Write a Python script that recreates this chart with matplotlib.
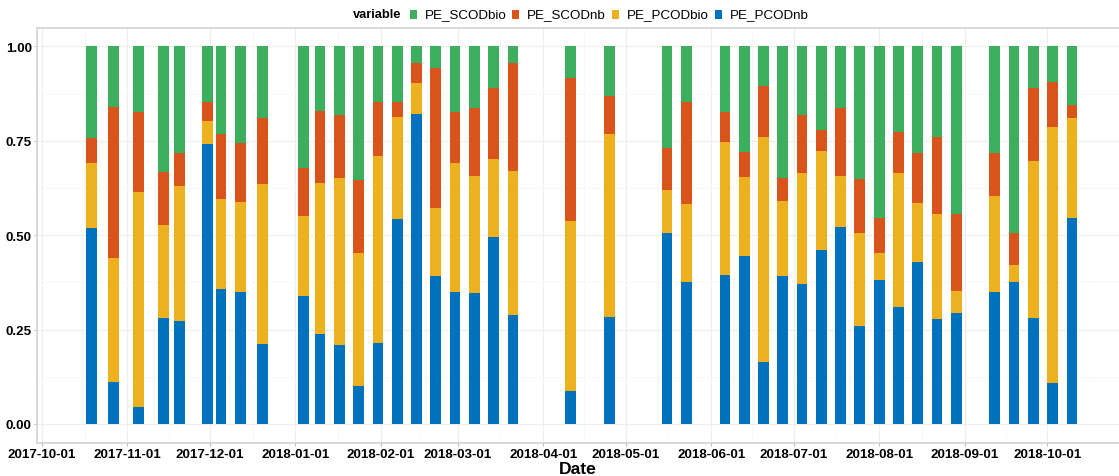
import matplotlib
matplotlib.use("Agg")
import matplotlib.pyplot as plt
import matplotlib.dates as mdates
from matplotlib.patches import Rectangle
import numpy as np
import pandas as pd

# Sampling dates
dates = [
    "2017-10-19", "2017-10-27", "2017-11-05", "2017-11-14", "2017-11-20",
    "2017-11-30", "2017-12-05", "2017-12-12", "2017-12-20", "2018-01-04",
    "2018-01-10", "2018-01-17", "2018-01-24", "2018-01-31", "2018-02-07",
    "2018-02-14", "2018-02-21", "2018-02-28", "2018-03-07", "2018-03-14",
    "2018-03-21", "2018-04-11", "2018-04-25", "2018-05-16", "2018-05-23",
    "2018-06-06", "2018-06-13", "2018-06-20", "2018-06-27", "2018-07-04",
    "2018-07-11", "2018-07-18", "2018-07-25", "2018-08-01", "2018-08-08",
    "2018-08-15", "2018-08-22", "2018-08-29", "2018-09-12", "2018-09-19",
    "2018-09-26", "2018-10-03", "2018-10-10",
]

# Cumulative fraction at the top of each stacked segment
top_pcodnb = [
    0.519, 0.112, 0.044, 0.281, 0.272, 0.741, 0.358, 0.350, 0.211, 0.339,
    0.237, 0.209, 0.101, 0.215, 0.542, 0.821, 0.393, 0.350, 0.348, 0.496,
    0.288, 0.087, 0.283, 0.506, 0.377, 0.394, 0.444, 0.163, 0.392, 0.370,
    0.461, 0.522, 0.260, 0.382, 0.309, 0.429, 0.277, 0.293, 0.349, 0.377,
    0.281, 0.108, 0.545,
]
top_pcodbio = [
    0.692, 0.439, 0.614, 0.526, 0.631, 0.803, 0.595, 0.587, 0.636, 0.551,
    0.637, 0.652, 0.452, 0.709, 0.812, 0.902, 0.572, 0.692, 0.656, 0.702,
    0.671, 0.538, 0.767, 0.620, 0.582, 0.747, 0.655, 0.761, 0.590, 0.664,
    0.722, 0.658, 0.506, 0.453, 0.664, 0.584, 0.557, 0.353, 0.605, 0.422,
    0.696, 0.786, 0.810,
]
top_scodnb = [
    0.757, 0.839, 0.826, 0.668, 0.719, 0.852, 0.767, 0.744, 0.810, 0.678,
    0.828, 0.819, 0.647, 0.853, 0.853, 0.955, 0.944, 0.825, 0.838, 0.891,
    0.955, 0.917, 0.869, 0.732, 0.853, 0.825, 0.720, 0.894, 0.652, 0.819,
    0.779, 0.836, 0.649, 0.546, 0.774, 0.719, 0.760, 0.557, 0.718, 0.505,
    0.890, 0.906, 0.845,
]

pe_pcodnb = np.array(top_pcodnb)
pe_pcodbio = np.array(top_pcodbio) - np.array(top_pcodnb)
pe_scodnb = np.array(top_scodnb) - np.array(top_pcodbio)
pe_scodbio = 1.0 - np.array(top_scodnb)

series_names = ["PE_SCODbio", "PE_SCODnb", "PE_PCODbio", "PE_PCODnb"]
series_colors = ["#3DAE5E", "#D9541A", "#EDB120", "#0072BD"]

x = pd.to_datetime(dates)

fig = plt.figure(figsize=(11.19, 4.77), dpi=100)
W, H = 1119.0, 477.0
ax = fig.add_axes([37.3 / W, 1 - 444 / H, 1 - 37.3 / W, (444 - 28.7) / H])

bar_w = 3.9
stack = [("PE_PCODnb", pe_pcodnb), ("PE_PCODbio", pe_pcodbio),
         ("PE_SCODnb", pe_scodnb), ("PE_SCODbio", pe_scodbio)]
color_of = dict(zip(series_names, series_colors))
bottom = np.zeros(len(dates))
for name, vals in stack:
    ax.bar(x, vals, width=bar_w, bottom=bottom, color=color_of[name],
           linewidth=0, zorder=3)
    bottom = bottom + vals

origin = mdates.date2num(pd.Timestamp("2017-10-01"))
ax.set_xlim(origin - 1.7, origin + 391.1)
ax.set_ylim(-0.0505, 1.0496)

month_ticks = pd.date_range("2017-10-01", "2018-10-01", freq="MS")
ax.set_xticks(month_ticks)
ax.set_xticklabels([d.strftime("%Y-%m-%d") for d in month_ticks])
mids = [mdates.date2num(a) + (mdates.date2num(b) - mdates.date2num(a)) / 2
        for a, b in zip(month_ticks[:-1], month_ticks[1:])]
ax.set_xticks(mids, minor=True)
ax.set_yticks([0, 0.25, 0.5, 0.75, 1.0])
ax.set_yticklabels(["0.00", "0.25", "0.50", "0.75", "1.00"])
ax.set_yticks([0.125, 0.375, 0.625, 0.875], minor=True)

ax.grid(True, which="major", color="#EEEEEE", linewidth=0.8, zorder=0)
ax.grid(True, which="minor", color="#F6F6F6", linewidth=0.6, zorder=0)
ax.set_axisbelow(True)

for s in ["top", "left", "bottom"]:
    ax.spines[s].set_color("#D6D6D6")
    ax.spines[s].set_linewidth(1.3)
ax.spines["right"].set_visible(False)

ax.tick_params(axis="both", which="major", length=2.5, width=0.8,
               color="#BBBBBB", labelcolor="black", labelsize=9.6)
ax.tick_params(axis="both", which="minor", length=0)
ax.tick_params(axis="x", pad=1)
ax.tick_params(axis="y", pad=1.5)
for lab in ax.get_xticklabels() + ax.get_yticklabels():
    lab.set_fontweight("bold")
    lab.set_fontfamily("Liberation Sans")

# Axis title
fig.text(578 / W, 1 - 469.5 / H, "Date", fontsize=12.6, fontweight="bold",
         family="Liberation Sans", ha="center", va="center")

# Legend row along the top edge
fig.canvas.draw()
renderer = fig.canvas.get_renderer()
y_text = H - 15.5
cur = 353.0
t = fig.text(cur / W, y_text / H, "variable", fontsize=9.3, fontweight="bold",
             family="Liberation Sans", va="center", ha="left")
cur += t.get_window_extent(renderer).width + 8
for name, col in zip(series_names, series_colors):
    fig.patches.append(Rectangle((cur / W, (y_text - 4.5) / H), 7 / W, 9 / H,
                                 transform=fig.transFigure, facecolor=col,
                                 edgecolor="none"))
    cur += 7 + 8
    t = fig.text(cur / W, y_text / H, name, fontsize=9.6,
                 family="Liberation Sans", va="center", ha="left")
    cur += t.get_window_extent(renderer).width + 6

fig.savefig("out.png", dpi=100, facecolor="white")
